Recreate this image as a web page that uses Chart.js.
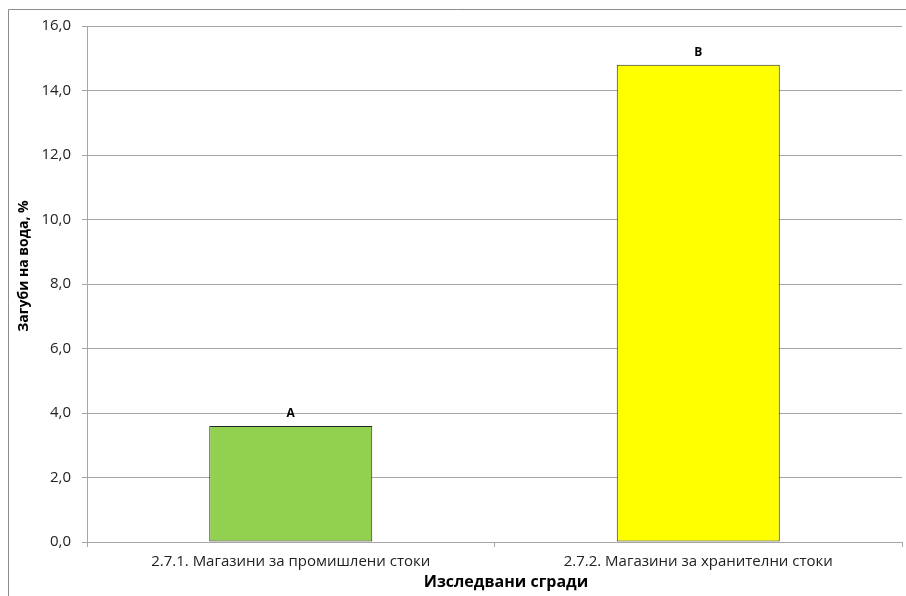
<!DOCTYPE html>
<html lang="bg">
<head>
  <meta charset="UTF-8">
  <title>chart</title>
  <script src="https://cdn.jsdelivr.net/npm/chart.js@4.4.0/dist/chart.umd.min.js"></script>
  <style>
    html, body { margin: 0; padding: 0; background: #fff; }
    .chart-box { position: relative; width: 906px; height: 596px; }
  </style>
</head>
<body>
  <div class="chart-box">
    <canvas id="chart_losses"></canvas>
  </div>
  <script>
    // data
    var categories = ['2.7.1. Магазини за промишлени стоки', '2.7.2. Магазини за хранителни стоки'];
    var lossValues = [3.6, 14.8];
    var groupLabels = ['A', 'B'];
    var barColors = ['#92D050', '#FFFF00'];
    var xTitle = 'Изследвани сгради';
    var yTitle = 'Загуби на вода, %';

    var FONT = "'Open Sans', 'DejaVu Sans', sans-serif";
    var GRID = '#a6a6a6';

    // outer frame, axis titles and letters above the bars
    var framePlugin = {
      id: 'framePlugin',
      afterDraw: function(chart) {
        var c = chart.ctx;
        c.save();
        c.strokeStyle = '#8c8c8c';
        c.lineWidth = 1;
        c.beginPath();
        c.moveTo(8.5, chart.height);
        c.lineTo(8.5, 9.5);
        c.lineTo(chart.width, 9.5);
        c.stroke();

        c.fillStyle = '#000';
        c.textAlign = 'center';
        c.textBaseline = 'middle';
        c.font = 'bold 16px ' + FONT;
        c.fillText(xTitle, 506, 582);

        c.save();
        c.translate(24, 266);
        c.rotate(-Math.PI / 2);
        c.font = 'bold 14px ' + FONT;
        c.fillText(yTitle, 0, 0);
        c.restore();

        var meta = chart.getDatasetMeta(0);
        c.font = 'bold 12px ' + FONT;
        c.textBaseline = 'bottom';
        meta.data.forEach(function(bar, i) {
          c.fillText(groupLabels[i], bar.x, bar.y - 6);
        });
        c.restore();
      }
    };

    var ctx = document.getElementById('chart_losses').getContext('2d');
    var chart = new Chart(ctx, {
      type: 'bar',
      data: {
        labels: categories,
        datasets: [{
          data: lossValues,
          backgroundColor: barColors,
          borderColor: '#262626',
          borderWidth: 1,
          borderSkipped: false,
          categoryPercentage: 0.4,
          barPercentage: 1.0
        }]
      },
      options: {
        responsive: true,
        maintainAspectRatio: false,
        animation: false,
        layout: { padding: { left: 0, right: 4, top: 26, bottom: 0 } },
        plugins: {
          legend: { display: false },
          tooltip: { enabled: false }
        },
        scales: {
          x: {
            grid: { drawOnChartArea: false, drawTicks: true, tickLength: 5, color: GRID },
            border: { color: GRID },
            ticks: { color: '#222', font: { family: FONT, size: 15 }, padding: 6, maxRotation: 0 },
            afterFit: function(s) { s.height = 54; }
          },
          y: {
            min: 0, max: 16,
            ticks: { stepSize: 2, color: '#222', font: { family: FONT, size: 15 }, padding: 11,
                     callback: function(v) { return v.toFixed(1).replace('.', ','); } },
            grid: { color: GRID, tickLength: 5 },
            border: { color: GRID },
            afterFit: function(s) { s.width = 87; }
          }
        }
      },
      plugins: [framePlugin]
    });
  </script>
</body>
</html>
